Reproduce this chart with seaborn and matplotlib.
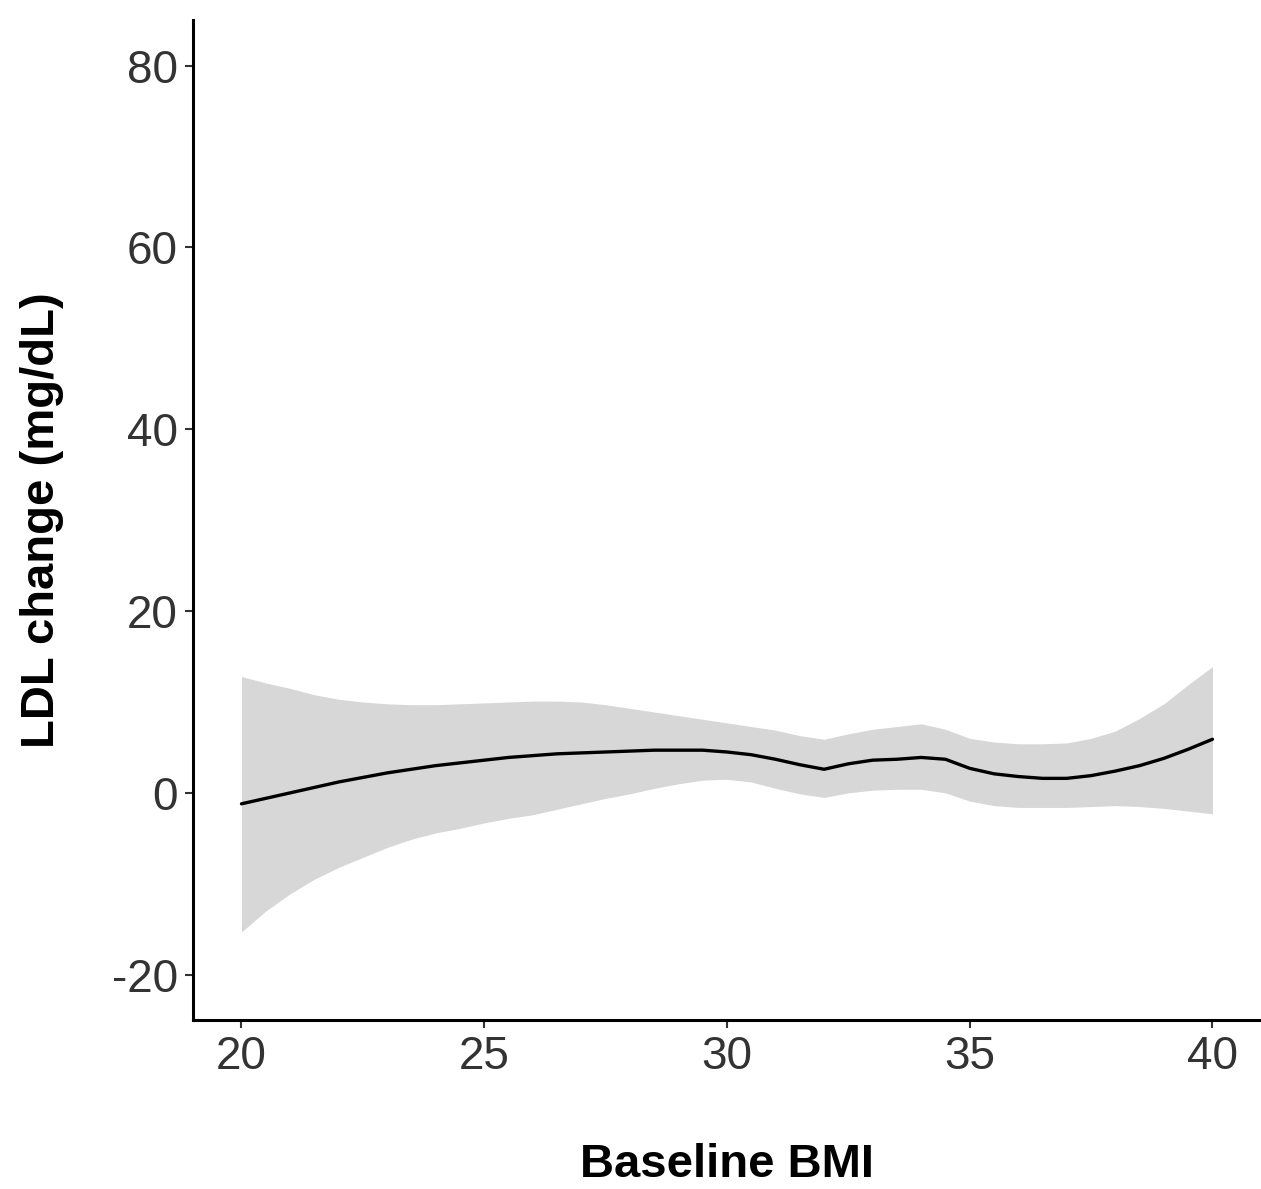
import pandas as pd
import matplotlib
matplotlib.use("Agg")
import matplotlib.pyplot as plt
import seaborn as sns

# ----------------------------------------------------------
# Data (smoothed fit + confidence band)
# ----------------------------------------------------------

bmi = [20, 20.5, 21, 21.5, 22, 22.5, 23, 23.5, 24, 24.5, 25, 25.5, 26, 26.5,
       27, 27.5, 28, 28.5, 29, 29.5, 30, 30.5, 31, 31.5, 32, 32.5, 33, 33.5,
       34, 34.5, 35, 35.5, 36, 36.5, 37, 37.5, 38, 38.5, 39, 39.5, 40]
fit = [-1.2, -0.6, 0.0, 0.6, 1.2, 1.7, 2.2, 2.6, 3.0, 3.3, 3.6, 3.9, 4.1,
       4.3, 4.4, 4.5, 4.6, 4.7, 4.7, 4.7, 4.5, 4.2, 3.7, 3.1, 2.6, 3.2, 3.6,
       3.7, 3.9, 3.7, 2.7, 2.1, 1.8, 1.6, 1.6, 1.9, 2.4, 3.0, 3.8, 4.8, 5.9]
upper = [12.8, 12.1, 11.5, 10.8, 10.3, 10.0, 9.8, 9.7, 9.7, 9.8, 9.9, 10.0,
         10.1, 10.1, 10.0, 9.7, 9.3, 8.9, 8.5, 8.1, 7.7, 7.3, 6.9, 6.3, 5.9,
         6.5, 7.0, 7.3, 7.6, 7.0, 6.0, 5.6, 5.4, 5.4, 5.5, 6.0, 6.8, 8.2, 9.8,
         11.9, 13.9]
lower = [-15.3, -13.0, -11.1, -9.5, -8.2, -7.1, -6.0, -5.1, -4.4, -3.9,
         -3.3, -2.8, -2.4, -1.8, -1.2, -0.6, -0.1, 0.5, 1.0, 1.4, 1.5, 1.2,
         0.5, -0.1, -0.5, 0.0, 0.3, 0.4, 0.4, 0.0, -0.9, -1.4, -1.6, -1.6,
         -1.6, -1.5, -1.4, -1.5, -1.7, -2.0, -2.3]

df = pd.DataFrame({"bmi": bmi, "fit": fit, "upper": upper, "lower": lower})

# ----------------------------------------------------------
# Plot
# ----------------------------------------------------------

sns.set_theme(style="ticks")
plt.rcParams["font.family"] = ["Liberation Sans", "DejaVu Sans"]
plt.rcParams["axes.unicode_minus"] = False

fig = plt.figure(figsize=(12.61, 11.89), dpi=100)
ax = fig.add_axes([0.153, 0.142, 0.847, 0.841])

ax.fill_between(df["bmi"], df["lower"], df["upper"],
                color="#d7d7d7", linewidth=0)
sns.lineplot(data=df, x="bmi", y="fit", color="black",
             linewidth=2.4, ax=ax)

ax.set_xlim(19, 41)
ax.set_ylim(-25, 85)
ax.set_xticks([20, 25, 30, 35, 40])
ax.set_yticks([-20, 0, 20, 40, 60, 80])

ax.set_xlabel("Baseline BMI", fontsize=34, fontweight="bold",
              labelpad=46, color="black")
ax.set_ylabel("LDL change (mg/dL)", fontsize=34, fontweight="bold",
              labelpad=34, color="black")

ax.tick_params(axis="both", labelsize=33, labelcolor="#333333",
               color="#333333", length=6, width=1.5, pad=5)

sns.despine(ax=ax)
for side in ["left", "bottom"]:
    ax.spines[side].set_linewidth(2.2)
    ax.spines[side].set_color("black")

fig.savefig("out.png", dpi=100)
